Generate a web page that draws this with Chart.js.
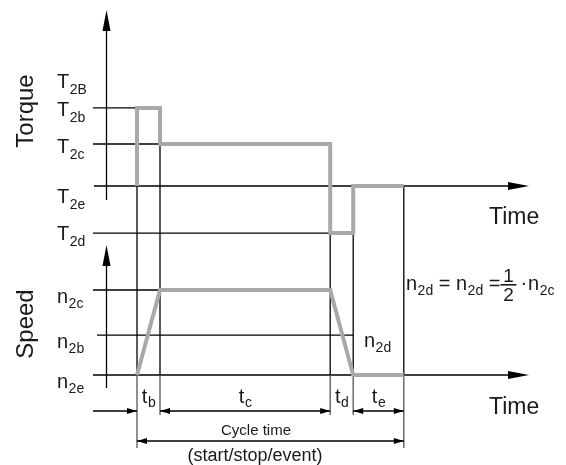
<!DOCTYPE html>
<html>
<head>
<meta charset="utf-8">
<script src="https://cdn.jsdelivr.net/npm/chart.js@4.4.0/dist/chart.umd.min.js"></script>
<style>
  html, body { margin: 0; padding: 0; background: #fff; }
  #wrap { width: 566px; height: 465px; position: relative; }
</style>
</head>
<body>
<div id="wrap"><canvas id="cycleChart"></canvas></div>
<script>
// phases of the cycle (t_b, t_c, t_d, t_e) and their durations in time units
const phases = ['b', 'c', 'd', 'e'];
const durations = [1, 7.4, 1, 2.2];

// torque levels (top panel)
const torqueNames = ['2B', '2b', '2c', '2e', '2d'];
const torqueLevels = [2.52, 1.86, 1, 0, -1.12];
const torqueStart = '2e';
const torqueByPhase = ['2b', '2c', '2d', '2e'];

// speed levels (bottom panel)
const speedNames = ['2c', '2b', '2e'];
const speedLevels = [1, 0.47, 0];
const speedAtBounds = ['2e', '2c', '2c', '2e', '2e'];

const FONT = '"Liberation Sans", Arial, sans-serif';
const GREY = '#a9a9a9';

const lvlT = n => torqueLevels[torqueNames.indexOf(n)];
const lvlS = n => speedLevels[speedNames.indexOf(n)];

// phase boundaries
const times = [0];
durations.forEach((d, i) => times.push(times[i] + d));

const torquePts = [{ x: times[0], y: lvlT(torqueStart) }];
torqueByPhase.forEach((n, i) => {
    torquePts.push({ x: times[i], y: lvlT(n) });
    torquePts.push({ x: times[i + 1], y: lvlT(n) });
});
const speedPts = times.map((t, i) => ({ x: t, y: lvlS(speedAtBounds[i]) }));

function line(ctx, x1, y1, x2, y2) {
    ctx.beginPath();
    ctx.moveTo(x1, y1);
    ctx.lineTo(x2, y2);
    ctx.stroke();
}

function arrowHead(ctx, x, y, dx, dy, len, half) {
    // tip at x,y, pointing along (dx,dy)
    const bx = x - dx * len, by = y - dy * len;
    ctx.beginPath();
    ctx.moveTo(x, y);
    ctx.lineTo(bx - dy * half, by + dx * half);
    ctx.lineTo(bx + dy * half, by - dx * half);
    ctx.closePath();
    ctx.fill();
}

function subText(ctx, main, sub, x, y, big, small, drop, center) {
    ctx.font = big + 'px ' + FONT;
    const w1 = ctx.measureText(main).width;
    ctx.font = small + 'px ' + FONT;
    const w2 = ctx.measureText(sub).width;
    let x0 = center ? x - (w1 + w2) / 2 : x;
    ctx.textAlign = 'left';
    ctx.textBaseline = 'alphabetic';
    ctx.font = big + 'px ' + FONT;
    ctx.fillText(main, x0, y);
    ctx.font = small + 'px ' + FONT;
    ctx.fillText(sub, x0 + w1 + 0.5, y + drop);
    return w1 + w2 + 0.5;
}

const sketch = {
    id: 'sketch',
    beforeDatasetsDraw(chart) {
        const { ctx, scales } = chart;
        const tx = times.map(t => scales.x.getPixelForValue(t));
        const T = n => scales.yT.getPixelForValue(lvlT(n));
        const S = n => scales.yS.getPixelForValue(lvlS(n));
        ctx.save();
        ctx.strokeStyle = '#000';
        ctx.fillStyle = '#000';
        ctx.lineWidth = 1.3;

        // level lines
        line(ctx, 93, T('2b'), tx[0], T('2b'));
        line(ctx, 93, T('2c'), tx[1], T('2c'));
        line(ctx, 93, T('2d'), tx[2], T('2d'));
        line(ctx, 93, S('2c'), tx[1], S('2c'));
        line(ctx, 97, S('2b'), tx[3], S('2b'));

        // axes
        line(ctx, 106.5, 200, 106.5, 20);
        arrowHead(ctx, 106.5, 10, 0, -1, 21, 4);
        line(ctx, 94, T('2e'), 515, T('2e'));
        arrowHead(ctx, 529, T('2e'), 1, 0, 21, 4);
        line(ctx, 106.5, 388, 106.5, 255);
        arrowHead(ctx, 106.5, 245, 0, -1, 21, 4);
        line(ctx, 93, S('2e'), 515, S('2e'));
        arrowHead(ctx, 529, S('2e'), 1, 0, 21, 4);

        // phase boundaries
        const tops = [T('2e'), T('2c'), T('2d'), T('2d'), T('2e')];
        const ends = [448, 415, 415, 415, 448];
        tx.forEach((x, i) => {
            ctx.strokeStyle = '#000';
            line(ctx, x, tops[i], x, S('2e'));
            ctx.strokeStyle = '#555';
            line(ctx, x, S('2e'), x, ends[i]);
        });

        // dimension arrows
        ctx.strokeStyle = '#000';
        const dy = 411;
        line(ctx, 93, dy, tx[0], dy);
        arrowHead(ctx, tx[0], dy, 1, 0, 10, 3);
        line(ctx, tx[1], dy, tx[2], dy);
        arrowHead(ctx, tx[1], dy, -1, 0, 10, 3);
        arrowHead(ctx, tx[2], dy, 1, 0, 10, 3);
        line(ctx, tx[3], dy, tx[4], dy);
        arrowHead(ctx, tx[3], dy, -1, 0, 10, 3);
        arrowHead(ctx, tx[4], dy, 1, 0, 10, 3);

        const cy = 441;
        line(ctx, tx[0], cy, tx[4], cy);
        arrowHead(ctx, tx[0], cy, -1, 0, 10, 3);
        arrowHead(ctx, tx[4], cy, 1, 0, 10, 3);
        ctx.restore();
    },
    afterDatasetsDraw(chart) {
        const { ctx, scales } = chart;
        const tx = times.map(t => scales.x.getPixelForValue(t));
        const T = n => scales.yT.getPixelForValue(lvlT(n));
        const S = n => scales.yS.getPixelForValue(lvlS(n));
        ctx.save();
        ctx.fillStyle = '#1a1a1a';

        // axis titles
        ctx.font = '24px ' + FONT;
        ctx.textAlign = 'center';
        ctx.textBaseline = 'alphabetic';
        [['Torque', 111], ['Speed', 324]].forEach(([s, y]) => {
            ctx.save();
            ctx.translate(33, y);
            ctx.rotate(-Math.PI / 2);
            ctx.fillText(s, 0, 0);
            ctx.restore();
        });
        ctx.font = '23px ' + FONT;
        ctx.textAlign = 'left';
        ctx.fillText('Time', 489, T('2e') + 38);
        ctx.fillText('Time', 489, S('2e') + 39);

        // level tick labels
        const tOff = { '2B': 8, '2b': 8, '2c': 9, '2e': 17, '2d': 7 };
        torqueNames.forEach(n => subText(ctx, 'T', n, 57, T(n) + tOff[n], 20, 14, 6));
        speedNames.forEach(n => subText(ctx, 'n', n, 57, S(n) + 13, 20, 14, 5));

        // phase labels
        phases.forEach((p, i) => {
            subText(ctx, 't', p, (tx[i] + tx[i + 1]) / 2, 403, 20, 14, 4, true);
        });

        ctx.textAlign = 'center';
        ctx.font = '15px ' + FONT;
        ctx.fillText('Cycle time', 256, 435);
        ctx.font = '18px ' + FONT;
        ctx.fillText('(start/stop/event)', 255, 461);

        // n2d marker and formula
        subText(ctx, 'n', '2d', 364, 347, 20, 14, 5);
        let x = 406;
        const fy = 290;
        x += subText(ctx, 'n', '2d', x, fy, 20, 14, 5);
        ctx.font = '20px ' + FONT;
        ctx.textAlign = 'left';
        ctx.fillText(' = ', x, fy);
        x += ctx.measureText(' = ').width;
        x += subText(ctx, 'n', '2d', x, fy, 20, 14, 5);
        ctx.font = '20px ' + FONT;
        ctx.fillText(' =', x, fy);
        x += ctx.measureText(' =').width;
        ctx.fillRect(x, 284, 16, 1.6);
        ctx.textAlign = 'center';
        ctx.font = '19px ' + FONT;
        ctx.fillText('1', x + 8, 282);
        ctx.fillText('2', x + 8, 301);
        x += 20;
        ctx.textAlign = 'left';
        ctx.font = '20px ' + FONT;
        ctx.fillText('\u00b7', x, fy - 1);
        x += ctx.measureText('\u00b7').width + 1;
        subText(ctx, 'n', '2c', x, fy, 20, 14, 5);
        ctx.restore();
    }
};

const ctxEl = document.getElementById('cycleChart');
new Chart(ctxEl, {
    type: 'scatter',
    data: {
        datasets: [
            {
                label: 'Torque',
                data: torquePts,
                yAxisID: 'yT',
                showLine: true,
                borderColor: GREY,
                borderWidth: 4,
                pointRadius: 0,
                tension: 0,
                borderJoinStyle: 'miter',
                borderCapStyle: 'butt'
            },
            {
                label: 'Speed',
                data: speedPts,
                yAxisID: 'yS',
                showLine: true,
                borderColor: GREY,
                borderWidth: 4,
                pointRadius: 0,
                tension: 0,
                borderJoinStyle: 'miter',
                borderCapStyle: 'butt'
            }
        ]
    },
    options: {
        responsive: true,
        maintainAspectRatio: false,
        animation: false,
        events: [],
        layout: { padding: 0 },
        plugins: {
            legend: { display: false },
            tooltip: { enabled: false }
        },
        scales: {
            x: { type: 'linear', display: false, min: -137 / 23, max: 429 / 23 },
            yT: { type: 'linear', display: false, min: -279 / 42, max: 186 / 42 },
            yS: { type: 'linear', display: false, min: -90 / 85, max: 375 / 85 }
        }
    },
    plugins: [sketch]
});
</script>
</body>
</html>
